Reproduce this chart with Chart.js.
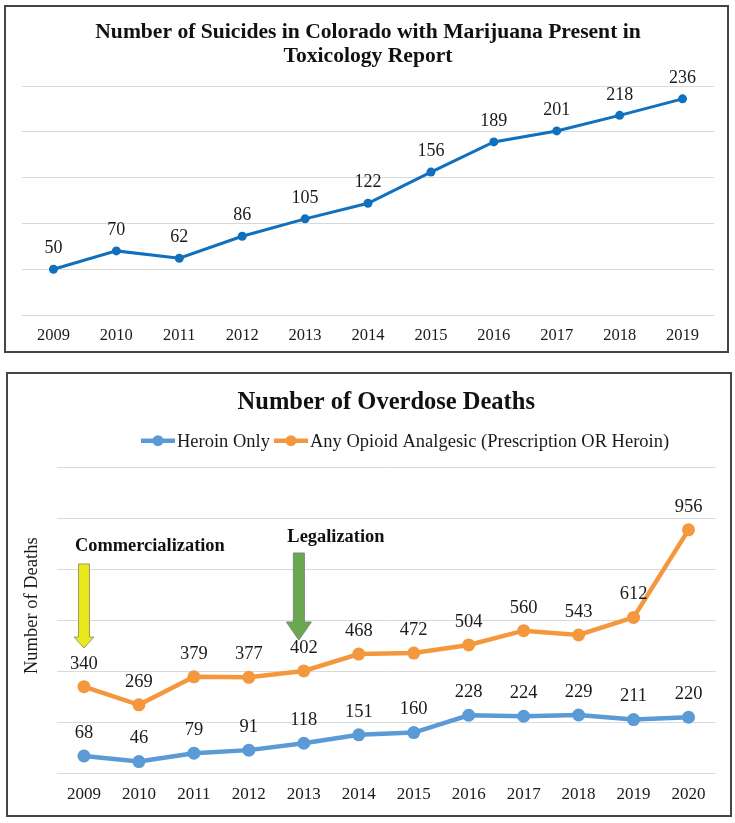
<!DOCTYPE html>
<html>
<head>
<meta charset="utf-8">
<script src="https://cdn.jsdelivr.net/npm/chart.js@4.4.1/dist/chart.umd.min.js"></script>
<style>
  body { margin: 0; background: #fff; width: 735px; height: 823px; position: relative; overflow: hidden; }
  .box { position: absolute; border: 2px solid #454545; background: #fff; }
  canvas { display: block; }
</style>
</head>
<body>
<div class="box" style="left:4px; top:5px;"><canvas id="suicides" width="721" height="344"></canvas></div>
<div class="box" style="left:6px; top:372px;"><canvas id="overdoses" width="722" height="441"></canvas></div>
<script>
// top chart data
const suicideYears = ["2009", "2010", "2011", "2012", "2013", "2014", "2015", "2016", "2017", "2018", "2019"];
const suicideCounts = [50, 70, 62, 86, 105, 122, 156, 189, 201, 218, 236];
const suicideTicks = [0, 50, 100, 150, 200, 250];

// bottom chart data
const overdoseYears = ["2009", "2010", "2011", "2012", "2013", "2014", "2015", "2016", "2017", "2018", "2019", "2020"];
const heroinOnly = [68, 46, 79, 91, 118, 151, 160, 228, 224, 229, 211, 220];
const anyOpioid = [340, 269, 379, 377, 402, 468, 472, 504, 560, 543, 612, 956];
const overdoseTicks = [0, 200, 400, 600, 800, 1000, 1200];
const seriesNames = ["Heroin Only", "Any Opioid Analgesic (Prescription OR Heroin)"];

const SERIF = "'Liberation Serif', 'Times New Roman', serif";
Chart.defaults.font.family = SERIF;
Chart.defaults.color = "#1a1a1a";

// value labels above every point
const valueLabels = {
    id: "valueLabels",
    afterDatasetsDraw(chart, args, opts) {
        const ctx = chart.ctx;
        ctx.save();
        ctx.font = opts.size + "px " + SERIF;
        ctx.fillStyle = "#1a1a1a";
        ctx.textAlign = "center";
        ctx.textBaseline = "middle";
        chart.data.datasets.forEach((ds, i) => {
            chart.getDatasetMeta(i).data.forEach((pt, j) => {
                ctx.fillText(String(ds.data[j]), pt.x, pt.y - opts.offset);
            });
        });
        ctx.restore();
    }
};

function yScaleOpts(ticks) {
    return {
        min: ticks[0],
        max: ticks[ticks.length - 1],
        ticks: { display: false, stepSize: ticks[1] - ticks[0] },
        grid: { color: "#d9d9d9", lineWidth: 1, drawTicks: false },
        border: { display: false }
    };
}

function xScaleOpts(size, pad) {
    return {
        offset: true,
        grid: { display: false, drawTicks: false },
        border: { display: false },
        ticks: { font: { size: size }, padding: pad, maxRotation: 0, autoSkip: false },
        afterFit(scale) { scale.height = 30; }
    };
}

new Chart(document.getElementById("suicides"), {
    type: "line",
    data: {
        labels: suicideYears,
        datasets: [{
            data: suicideCounts,
            borderColor: "#1170BE",
            backgroundColor: "#1170BE",
            borderWidth: 3,
            pointRadius: 4.5,
            pointBorderWidth: 0,
            tension: 0,
            clip: false
        }]
    },
    options: {
        responsive: false,
        animation: false,
        devicePixelRatio: 1,
        layout: { padding: { left: 16, right: 13, top: 0, bottom: 6 } },
        plugins: {
            legend: { display: false },
            tooltip: { enabled: false },
            title: {
                display: true,
                text: ["Number of Suicides in Colorado with Marijuana Present in", "Toxicology Report"],
                font: { size: 21.6, weight: "bold", lineHeight: 1.135 },
                color: "#111",
                padding: { top: 13, bottom: 17 }
            },
            valueLabels: { size: 18, offset: 20.5 }
        },
        scales: {
            x: xScaleOpts(16.5, 10.75),
            y: yScaleOpts(suicideTicks)
        }
    },
    plugins: [valueLabels]
});

// arrows and notes on the overdose chart (x in category index, y in deaths)
const notes = [
    { text: "Commercialization", at: 0, textY: 892, top: 822, headStart: 535, tip: 492, dx: -9,
      fill: "#ECE81E", stroke: "#9a9a6a", shaft: 11, head: 20 },
    { text: "Legalization", at: 3.91, textY: 925, top: 865, headStart: 594, tip: 523, dx: -11.5,
      fill: "#6AA84F", stroke: "#7a8a76", shaft: 11, head: 25 }
];

const overdoseExtras = {
    id: "overdoseExtras",
    afterDraw(chart) {
        const ctx = chart.ctx;
        const x = chart.scales.x;
        const y = chart.scales.y;
        ctx.save();

        // legend
        let lx = 133;
        const ly = 66.7;
        ctx.font = "18.5px " + SERIF;
        ctx.textBaseline = "middle";
        ctx.textAlign = "left";
        chart.data.datasets.forEach((ds) => {
            ctx.strokeStyle = ds.borderColor;
            ctx.lineWidth = 4.5;
            ctx.beginPath();
            ctx.moveTo(lx, ly);
            ctx.lineTo(lx + 34, ly);
            ctx.stroke();
            ctx.fillStyle = ds.borderColor;
            ctx.beginPath();
            ctx.arc(lx + 17, ly, 5.5, 0, Math.PI * 2);
            ctx.fill();
            ctx.fillStyle = "#1a1a1a";
            ctx.fillText(ds.label, lx + 36, ly + 1);
            lx += 36 + ctx.measureText(ds.label).width + 4;
        });

        // y axis title
        ctx.save();
        ctx.translate(24, 231.7);
        ctx.rotate(-Math.PI / 2);
        ctx.textAlign = "center";
        ctx.fillText("Number of Deaths", 0, 0);
        ctx.restore();

        // arrows + notes
        notes.forEach((n) => {
            const cx = x.getPixelForValue(n.at);
            const yTop = y.getPixelForValue(n.top);
            const yHead = y.getPixelForValue(n.headStart);
            const yTip = y.getPixelForValue(n.tip);
            ctx.beginPath();
            ctx.moveTo(cx - n.shaft / 2, yTop);
            ctx.lineTo(cx + n.shaft / 2, yTop);
            ctx.lineTo(cx + n.shaft / 2, yHead);
            ctx.lineTo(cx + n.head / 2, yHead);
            ctx.lineTo(cx, yTip);
            ctx.lineTo(cx - n.head / 2, yHead);
            ctx.lineTo(cx - n.shaft / 2, yHead);
            ctx.closePath();
            ctx.fillStyle = n.fill;
            ctx.fill();
            ctx.strokeStyle = n.stroke;
            ctx.lineWidth = 1;
            ctx.stroke();

            ctx.font = "bold 18.4px " + SERIF;
            ctx.fillStyle = "#111";
            ctx.textAlign = "left";
            ctx.fillText(n.text, cx + n.dx, y.getPixelForValue(n.textY));
        });
        ctx.restore();
    }
};

new Chart(document.getElementById("overdoses"), {
    type: "line",
    data: {
        labels: overdoseYears,
        datasets: [{
            label: seriesNames[0],
            data: heroinOnly,
            borderColor: "#5B9BD5",
            backgroundColor: "#5B9BD5",
            borderWidth: 4.5,
            pointRadius: 6.5,
            pointBorderWidth: 0,
            tension: 0,
            clip: false
        }, {
            label: seriesNames[1],
            data: anyOpioid,
            borderColor: "#F4983E",
            backgroundColor: "#F4983E",
            borderWidth: 4.5,
            pointRadius: 6.5,
            pointBorderWidth: 0,
            tension: 0,
            clip: false
        }]
    },
    options: {
        responsive: false,
        animation: false,
        devicePixelRatio: 1,
        layout: { padding: { left: 48.5, right: 14, top: 0, bottom: 11.7 } },
        plugins: {
            legend: { display: false },
            tooltip: { enabled: false },
            title: {
                display: true,
                text: "Number of Overdose Deaths",
                font: { size: 24.5, weight: "bold", lineHeight: 1.2 },
                color: "#111",
                padding: { top: 14.3, bottom: 50 }
            },
            valueLabels: { size: 18.5, offset: 23 }
        },
        scales: {
            x: xScaleOpts(17, 11.5),
            y: yScaleOpts(overdoseTicks)
        }
    },
    plugins: [valueLabels, overdoseExtras]
});
</script>
</body>
</html>
